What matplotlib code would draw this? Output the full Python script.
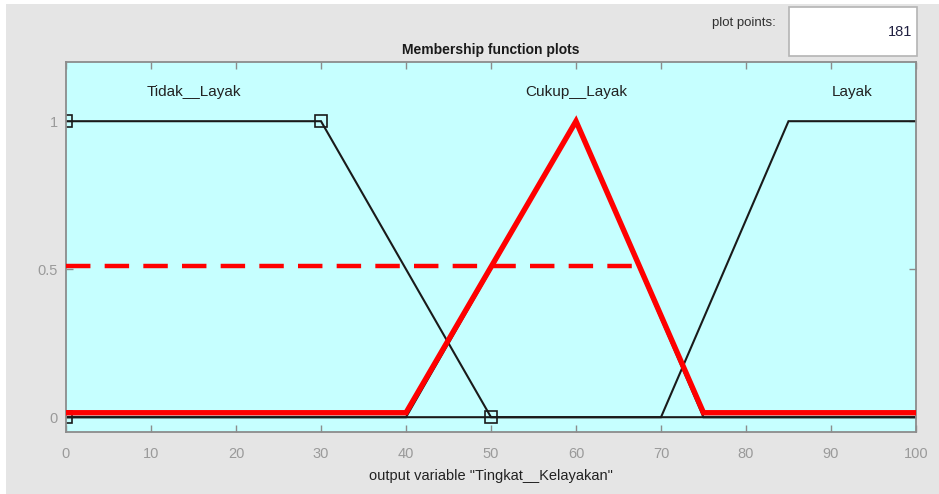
import matplotlib
matplotlib.use("Agg")
import matplotlib.pyplot as plt
from matplotlib.patches import Rectangle

plt.rcParams['font.family'] = ['Liberation Sans', 'DejaVu Sans']

# Membership functions of the output variable
mf_names = ["Tidak__Layak", "Cukup__Layak", "Layak"]
tidak_x = [0, 30, 50, 100]
tidak_y = [1, 1, 0, 0]
cukup_x = [0, 40, 60, 75, 100]
cukup_y = [0, 0, 1, 0, 0]
layak_x = [0, 70, 85, 100]
layak_y = [0, 0, 1, 1]

# Selected function (highlighted) and its cut level
selected_x = [0, 40, 60, 75, 100]
selected_y = [0.015, 0.015, 1, 0.015, 0.015]
cut_level = 0.51
cut_end = 75 - cut_level * 15

# Square handles of the first function
handle_x = [0, 30, 50, 0]
handle_y = [1, 1, 0, 0]

label_x = [15, 60, 92.5]
label_y = 1.1

xticks = list(range(0, 101, 10))
yticks = [0, 0.5, 1]
ytick_labels = ["0", "0.5", "1"]
plot_points = "181"

W, H = 939, 494
fig = plt.figure(figsize=(W / 100, H / 100), dpi=100, facecolor="white")

# grey window panel
fig.add_artist(Rectangle((6 / W, 0), 1 - 6 / W, 1 - 4 / H,
                         transform=fig.transFigure, facecolor="#e5e5e5",
                         edgecolor="none", zorder=-5))
# plot-points entry box
fig.add_artist(Rectangle((789 / W, 1 - 56 / H), 128 / W, 49 / H,
                         transform=fig.transFigure, facecolor="white",
                         edgecolor="#b4b4b4", linewidth=1.2, zorder=-4))
fig.text(776 / W, 1 - 23 / H, "plot points:", ha="right", va="center",
         fontsize=9.5, color="#303030")
fig.text(912 / W, 1 - 32 / H, plot_points, ha="right", va="center",
         fontsize=10.5, color="#202040")

ax = fig.add_axes([66 / W, 62 / H, 850 / W, 370 / H])
ax.set_facecolor("#c6ffff")

line_kw = dict(color="#1a1a1a", linewidth=1.5, solid_joinstyle="miter")
ax.plot(tidak_x, tidak_y, **line_kw)
ax.plot(cukup_x, cukup_y, **line_kw)
ax.plot(layak_x, layak_y, **line_kw)
ax.plot(handle_x, handle_y, linestyle="none", marker="s", markersize=8,
        markerfacecolor="none", markeredgecolor="#1a1a1a", markeredgewidth=1.2)

ax.plot(selected_x, selected_y, color="#ff0000", linewidth=3.9,
        solid_joinstyle="miter", zorder=4)
ax.plot([0, cut_end], [cut_level, cut_level], color="#ff0000", linewidth=3.2,
        linestyle=(0, (5.5, 3.2)), zorder=4)

for name, lx in zip(mf_names, label_x):
    ax.text(lx, label_y, name, ha="center", va="center", fontsize=11,
            color="#222222")

ax.set_xlim(0, 100)
ax.set_ylim(-0.05, 1.2)
ax.set_xticks(xticks)
ax.set_yticks(yticks)
ax.set_yticklabels(ytick_labels)
ax.tick_params(axis="both", direction="in", length=5, width=1, color="#8c8c8c",
               labelcolor="#9a9a9a", labelsize=10.5, top=True, right=True)
ax.tick_params(axis="x", pad=10.5)
ax.tick_params(axis="y", pad=6)
for sp in ax.spines.values():
    sp.set_color("#8c8c8c")
    sp.set_linewidth(1.3)

ax.set_title("Membership function plots", fontsize=10, fontweight="bold",
             color="#1a1a1a", pad=6)
ax.set_xlabel('output variable "Tingkat__Kelayakan"', fontsize=10.5,
              color="#222222", labelpad=6)

fig.savefig("out.png", dpi=100, facecolor="white")
